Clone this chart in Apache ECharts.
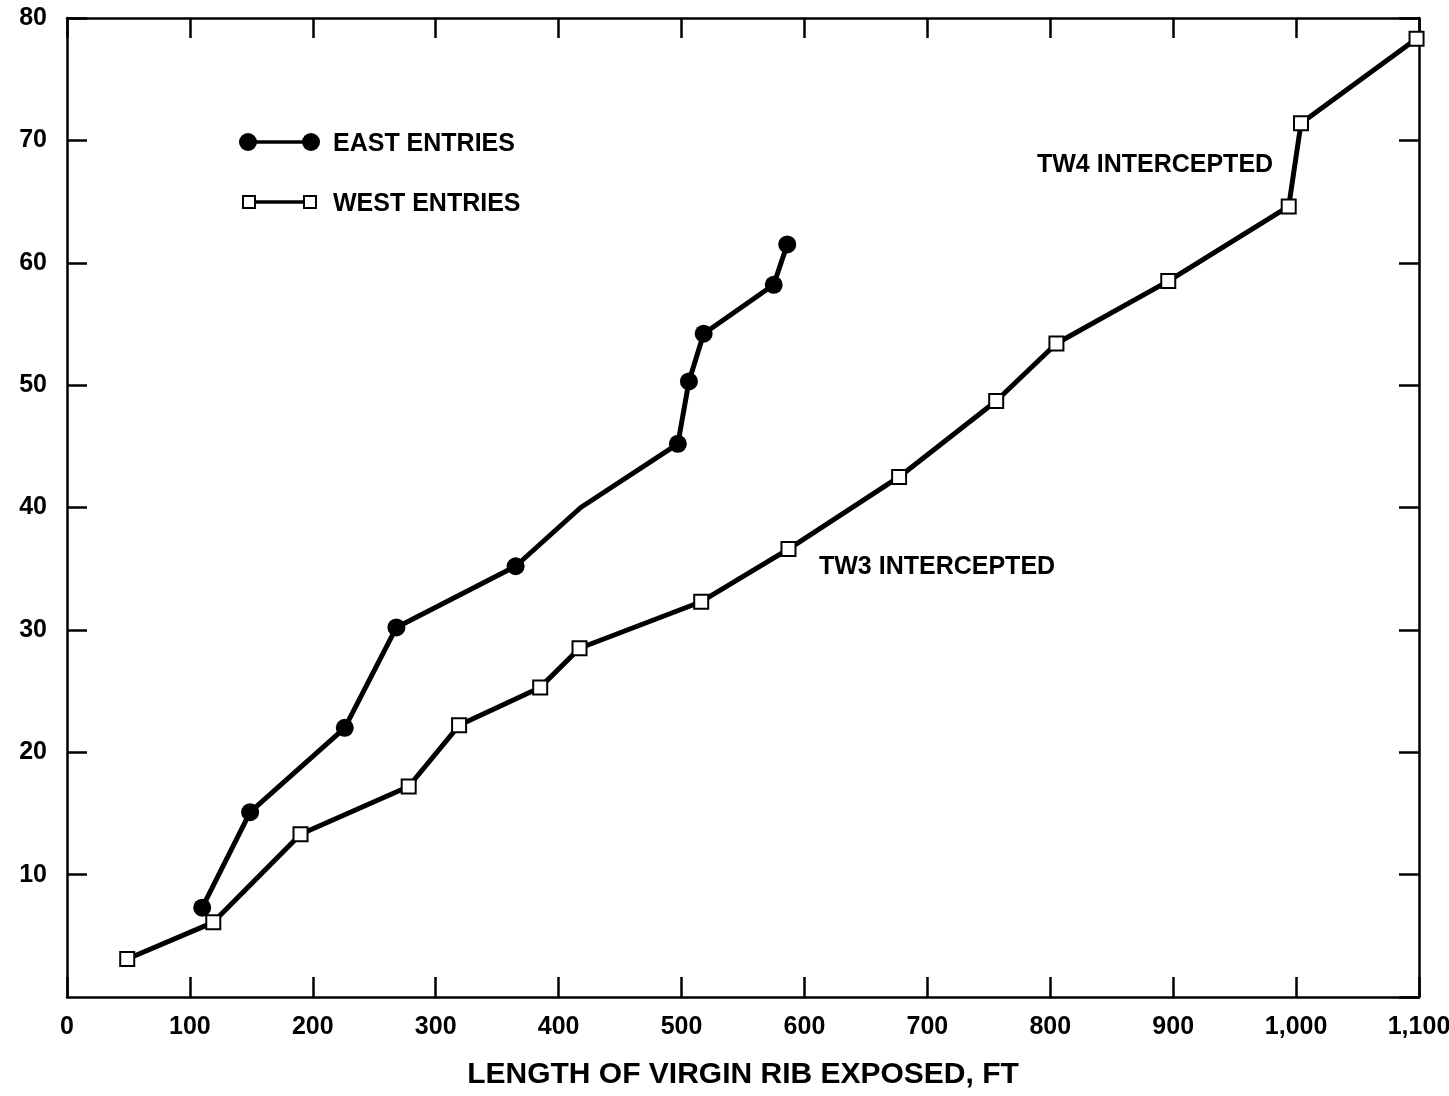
<!DOCTYPE html>
<html>
<head>
<meta charset="utf-8">
<script src="https://cdn.jsdelivr.net/npm/echarts@6/dist/echarts.min.js"></script>
<style>html,body{margin:0;padding:0;background:#fff;}#c{width:1449px;height:1096px;}</style>
</head>
<body>
<div id="c"></div>
<script>
// Data
const eastData = [[110,7.3],[149,15.1],[226,22.0],[268,30.2],[365,35.2],[418,40.0],[497,45.2],[506,50.3],[518,54.2],[575,58.2],[586,61.5]];
const eastNoMarker = [5]; // kink without marker
const westData = [[49,3.1],[119,6.1],[190,13.3],[278,17.2],[319,22.2],[385,25.3],[417,28.5],[516,32.3],[587,36.6],[677,42.5],[756,48.7],[805,53.4],[896,58.5],[994,64.6],[1004,71.4],[1098,78.3]];
const xTicks = [0,100,200,300,400,500,600,700,800,900,1000,1100];
const yTicks = [0,10,20,30,40,50,60,70,80];
const seriesNames = ['EAST ENTRIES','WEST ENTRIES'];
const xTitle = 'LENGTH OF VIRGIN RIB EXPOSED, FT';
const notes = [{text:'TW4 INTERCEPTED', left:1037, top:163},{text:'TW3 INTERCEPTED', left:819, top:565}];

const FONT = '"Liberation Sans", Arial, Helvetica, sans-serif';
const chart = echarts.init(document.getElementById('c'), null, {renderer:'canvas'});

function fmtX(v){ return v >= 1000 ? v.toLocaleString('en-US') : String(v); }

const axisLine = {show:true, onZero:false, lineStyle:{color:'#000', width:2.5}};
const tick = {show:true, inside:true, length:20, lineStyle:{color:'#000', width:2.5}};
const lbl = {color:'#000', fontFamily:FONT, fontWeight:'bold', fontSize:25};

const option = {
  backgroundColor:'#fff',
  animation:false,
  grid:{left:67, right:30, top:18, bottom:99, containLabel:false, outerBoundsMode:'none'},
  xAxis:[
    {type:'value', min:0, max:1100, interval:100, position:'bottom',
     axisLine:axisLine, axisTick:tick, splitLine:{show:false},
     axisLabel:Object.assign({margin:18, formatter:fmtX}, lbl),
     name:xTitle, nameLocation:'middle', nameGap:63,
     nameTextStyle:{color:'#000', fontFamily:FONT, fontWeight:'bold', fontSize:30}},
    {type:'value', min:0, max:1100, interval:100, position:'top',
     axisLine:axisLine, axisTick:tick, splitLine:{show:false}, axisLabel:{show:false}}
  ],
  yAxis:[
    {type:'value', min:0, max:80, interval:10, position:'left',
     axisLine:axisLine, axisTick:tick, splitLine:{show:false},
     axisLabel:Object.assign({margin:20, showMinLabel:false, formatter:function(v){return v===0?'':String(v);}}, lbl)},
    {type:'value', min:0, max:80, interval:10, position:'right',
     axisLine:axisLine, axisTick:tick, splitLine:{show:false}, axisLabel:{show:false}}
  ],
  series:[
    {name:seriesNames[0], type:'line', xAxisIndex:0, yAxisIndex:0,
     data:eastData.map((d,i)=> eastNoMarker.indexOf(i)>=0 ? {value:d, symbol:'none'} : {value:d}),
     symbol:'circle', symbolSize:18, showAllSymbol:true,
     lineStyle:{color:'#000', width:5}, itemStyle:{color:'#000', borderWidth:0}, z:3},
    {name:seriesNames[1], type:'line', xAxisIndex:0, yAxisIndex:0,
     data:westData, symbol:'rect', symbolSize:14, showAllSymbol:true,
     lineStyle:{color:'#000', width:5}, itemStyle:{color:'#fff', borderColor:'#000', borderWidth:2}, z:3}
  ],
  graphic:[
    {type:'line', shape:{x1:248,y1:142,x2:311,y2:142}, style:{stroke:'#000', lineWidth:3.5}},
    {type:'circle', shape:{cx:248, cy:142, r:9}, style:{fill:'#000'}},
    {type:'circle', shape:{cx:311, cy:142, r:9}, style:{fill:'#000'}},
    {type:'text', left:333, top:132, style:{text:seriesNames[0], fill:'#000', font:'bold 25px '+FONT}},
    {type:'line', shape:{x1:249,y1:202,x2:310,y2:202}, style:{stroke:'#000', lineWidth:3.5}},
    {type:'rect', shape:{x:243, y:196, width:12, height:12}, style:{fill:'#fff', stroke:'#000', lineWidth:2}, z:10},
    {type:'rect', shape:{x:304, y:196, width:12, height:12}, style:{fill:'#fff', stroke:'#000', lineWidth:2}, z:10},
    {type:'text', left:333, top:192, style:{text:seriesNames[1], fill:'#000', font:'bold 25px '+FONT}},
  ].concat(notes.map(n=>({type:'text', left:n.left, top:n.top-10, style:{text:n.text, fill:'#000', font:'bold 25px '+FONT}})))
};
chart.setOption(option);
</script>
</body>
</html>
